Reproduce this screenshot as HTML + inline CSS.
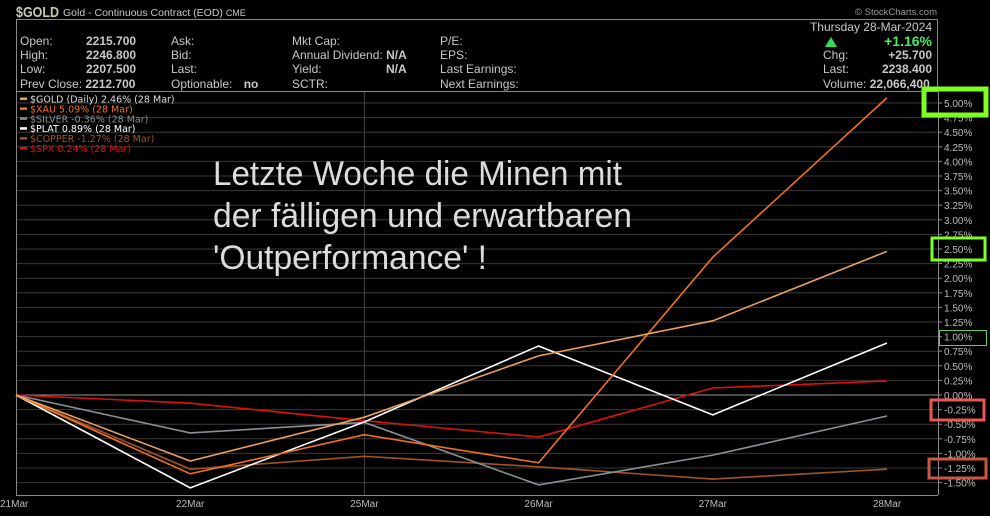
<!DOCTYPE html>
<html><head><meta charset="utf-8">
<style>
body{margin:0;background:#000;width:990px;height:511px;overflow:hidden;font-family:"Liberation Sans",sans-serif}
svg text{font-family:"Liberation Sans",sans-serif}
svg #legend text{font-family:"DejaVu Sans",sans-serif}
</style></head>
<body>
<svg id="c" width="990" height="511" xmlns="http://www.w3.org/2000/svg">
<rect width="990" height="511" fill="#000"/>
<text x="16" y="17" fill="#c8c8b4" font-size="15" font-weight="bold" textLength="43" lengthAdjust="spacingAndGlyphs">$GOLD</text>
<text x="63" y="16" fill="#c8c8c8" font-size="10.5">Gold - Continuous Contract (EOD) <tspan font-size="9">CME</tspan></text>
<text x="937" y="15" fill="#999" font-size="9.5" text-anchor="end">© StockCharts.com</text>
<rect x="16.5" y="19.5" width="921" height="72" fill="none" stroke="#888"/>
<g font-size="12" fill="#c8c8c8">
<text x="20" y="45">Open:</text><text x="86" y="45" font-weight="bold">2215.700</text>
<text x="20" y="59">High:</text><text x="86" y="59" font-weight="bold">2246.800</text>
<text x="20" y="73">Low:</text><text x="86" y="73" font-weight="bold">2207.500</text>
<text x="20" y="88">Prev Close: <tspan font-weight="bold">2212.700</tspan></text>
<text x="171" y="45">Ask:</text><text x="171" y="59">Bid:</text><text x="171" y="73">Last:</text>
<text x="171" y="88">Optionable: <tspan dx="8" font-weight="bold">no</tspan></text>
<text x="292" y="45">Mkt Cap:</text><text x="292" y="59">Annual Dividend: <tspan font-weight="bold">N/A</tspan></text>
<text x="292" y="73">Yield:</text><text x="386" y="73" font-weight="bold">N/A</text><text x="292" y="88">SCTR:</text>
<text x="440" y="45">P/E:</text><text x="440" y="59">EPS:</text><text x="440" y="73">Last Earnings:</text><text x="440" y="88">Next Earnings:</text>
<text x="932" y="31" text-anchor="end">Thursday  28-Mar-2024</text>
<polygon points="825,47 831,37 837,47" fill="#33dd55"/>
<text x="932" y="46" text-anchor="end" fill="#44ee66" font-weight="bold" font-size="14">+1.16%</text>
<text x="823" y="59">Chg:</text><text x="932" y="59" text-anchor="end" font-weight="bold">+25.700</text>
<text x="823" y="73">Last:</text><text x="932" y="73" text-anchor="end" font-weight="bold">2238.400</text>
<text x="823" y="88">Volume: <tspan font-weight="bold">22,066,400</tspan></text>
</g>
<g id="grid"></g>
<g id="series"></g>
<g id="legend" font-size="10"></g>
<g fill="#dcdcdc" font-size="34">
<text x="213" y="185" textLength="409" lengthAdjust="spacingAndGlyphs">Letzte Woche die Minen mit</text>
<text x="213" y="227" textLength="419" lengthAdjust="spacingAndGlyphs">der fälligen und erwartbaren</text>
<text x="213" y="269" textLength="274" lengthAdjust="spacingAndGlyphs">'Outperformance' !</text>
</g>
<g fill="none">
<rect x="924" y="89" width="62" height="26" stroke="#7fff20" stroke-width="5"/>
<rect x="932" y="238" width="53" height="22" stroke="#7fff20" stroke-width="3"/>
<rect x="939.5" y="330.5" width="47" height="15" stroke="#6c6" stroke-width="1"/>
<rect x="931" y="400" width="53" height="20" stroke="#ee5555" stroke-width="3"/>
<rect x="929" y="459" width="57" height="19" stroke="#cc5544" stroke-width="3"/>
</g>
</svg>
<script>
const dates=["21Mar","22Mar","25Mar","26Mar","27Mar","28Mar"];
const ticks=[5,4.75,4.5,4.25,4,3.75,3.5,3.25,3,2.75,2.5,2.25,2,1.75,1.5,1.25,1,0.75,0.5,0.25,0,-0.25,-0.5,-0.75,-1,-1.25,-1.5];
const gold=[0,-1.13,-0.38,0.67,1.27,2.46];
const xau=[0,-1.35,-0.68,-1.16,2.36,5.09];
const silver=[0,-0.65,-0.47,-1.54,-1.03,-0.36];
const plat=[0,-1.59,-0.46,0.84,-0.34,0.89];
const copper=[0,-1.27,-1.05,-1.23,-1.44,-1.27];
const spx=[0,-0.14,-0.44,-0.72,0.12,0.24];
const NS="http://www.w3.org/2000/svg";
const X0=16,XS=174.2,Y0=395,YS=58.4;
const xf=i=>X0+i*XS, yf=v=>Y0-v*YS;
function mk(t,a,p){const e=document.createElementNS(NS,t);for(const k in a)e.setAttribute(k,a[k]);p.appendChild(e);return e;}
const g=document.getElementById('grid');
ticks.forEach(t=>{
 const l=mk('line',{x1:16,x2:938,y1:yf(t),y2:yf(t),stroke:t===0?'#999':'#3a3a3a','stroke-width':1},g);
 
 
 const tx=mk('text',{x:944,y:yf(t)+4,fill:'#bbb','font-size':10},g);
 tx.textContent=t.toFixed(2)+'%';
 
 
 mk('line',{x1:938,x2:942,y1:yf(t),y2:yf(t),stroke:'#888'},g);
});
mk('line',{x1:16.5,x2:16.5,y1:92,y2:495,stroke:'#888'},g);
mk('line',{x1:938.5,x2:938.5,y1:92,y2:495,stroke:'#888'},g);
mk('line',{x1:16,x2:938,y1:495.5,y2:495.5,stroke:'#888'},g);
mk('line',{x1:xf(2),x2:xf(2),y1:92,y2:495,stroke:'#444'},g);
dates.forEach((d,i)=>{
 const tx=mk('text',{x:xf(i),y:507,fill:'#bbb','font-size':10,'text-anchor':i===0?'start':'middle'},g);
 if(i===0)tx.setAttribute('x',0);
 tx.textContent=d;
 
 
});
const S=document.getElementById('series');
const series=[["copper",copper,"#a0522d"],["silver",silver,"#8a9097"],["spx",spx,"#e01010"],["plat",plat,"#ffffff"],["xau",xau,"#f07020"],["gold",gold,"#e8a060"]];
series.forEach(s=>{
 const p=mk('polyline',{points:s[1].map((v,i)=>xf(i)+','+yf(v)).join(' '),fill:'none',stroke:s[2],'stroke-width':1.6},S);
 
 
});
const L=document.getElementById('legend');
const order=[["gold","#e8a060","#dcdcdc","$GOLD (Daily) 2.46% (28 Mar)"],["xau","#f07020","#f07020","$XAU 5.09% (28 Mar)"],["silver","#8a9097","#8a9097","$SILVER -0.36% (28 Mar)"],["plat","#fff","#fff","$PLAT 0.89% (28 Mar)"],["copper","#a0522d","#a0522d","$COPPER -1.27% (28 Mar)"],["spx","#e01010","#e01010","$SPX 0.24% (28 Mar)"]];
order.forEach((o,i)=>{
 const y=99+i*9.9;
 mk('rect',{x:20,y:y-1.5,width:7,height:2.5,fill:o[1]},L);
 const t=mk('text',{x:30,y:y+3.5,fill:o[2],'font-size':9.5},L);
 t.textContent=o[3];
 
 
});
</script>
</body></html>
